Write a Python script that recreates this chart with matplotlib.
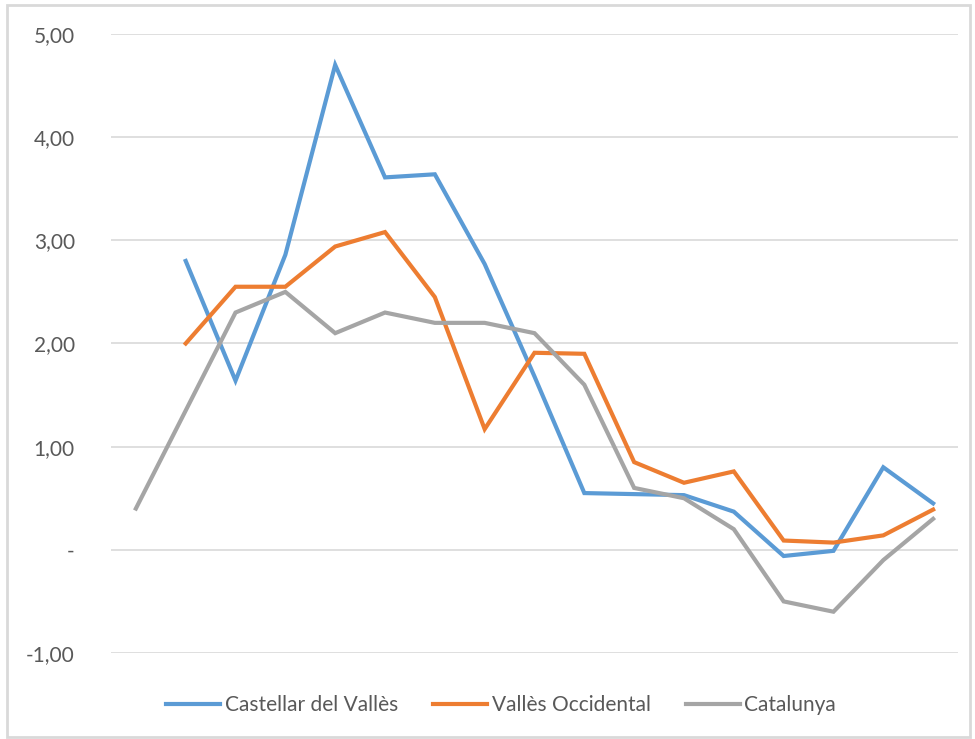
import matplotlib
matplotlib.use("Agg")
import matplotlib.pyplot as plt
from matplotlib.patches import Rectangle
import numpy as np

categories = list(range(17))
castellar = [None, 2.80, 1.64, 2.86, 4.70, 3.61, 3.64, 2.77, 1.68, 0.55, 0.54, 0.53, 0.37, -0.06, -0.01, 0.80, 0.45]
valles_occ = [None, 2.00, 2.55, 2.55, 2.94, 3.08, 2.45, 1.17, 1.91, 1.90, 0.85, 0.65, 0.76, 0.09, 0.07, 0.14, 0.39]
catalunya = [0.40, 1.35, 2.30, 2.50, 2.10, 2.30, 2.20, 2.20, 2.10, 1.60, 0.60, 0.50, 0.20, -0.50, -0.60, -0.10, 0.30]
y_ticks = [-1, 0, 1, 2, 3, 4, 5]
y_ticklabels = ["-1,00", "-", "1,00", "2,00", "3,00", "4,00", "5,00"]
series_names = ["Castellar del Vallès", "Vallès Occidental", "Catalunya"]
colors = ["#5B9BD5", "#ED7D31", "#A5A5A5"]

plt.rcParams['font.family'] = ['Lato', 'DejaVu Sans']

fig = plt.figure(figsize=(9.75, 7.39), dpi=100)
fig.patches.append(Rectangle((0.007, 0.003), 0.988, 0.99, transform=fig.transFigure,
                             fill=False, edgecolor="#D9D9D9", linewidth=2))
ax = fig.add_axes([0.1138, 0.1164, 0.8688, 0.8376])

x = np.array(categories, dtype=float)
def arr(v):
    return np.array([np.nan if a is None else a for a in v], dtype=float)

for data, name, c in zip([castellar, valles_occ, catalunya], series_names, colors):
    ax.plot(x, arr(data), color=c, linewidth=3.0, label=name, solid_joinstyle='miter', zorder=3)

ax.set_xlim(-0.5, 16.5)
ax.set_ylim(-1, 5)
ax.set_yticks(y_ticks)
ax.set_yticklabels(y_ticklabels, fontsize=15, color="#595959")
ax.set_xticks([])
ax.tick_params(axis='y', length=0, pad=26)
ax.grid(axis='y', color="#D9D9D9", linewidth=1.2)
ax.set_axisbelow(True)
for s in ax.spines.values():
    s.set_visible(False)

leg = fig.legend(loc='center', bbox_to_anchor=(0.514, 0.046), ncol=3, frameon=False,
                 fontsize=15, handlelength=2.6, handletextpad=0.2, columnspacing=1.7)
for t in leg.get_texts():
    t.set_color("#595959")

fig.savefig("out.png", dpi=100)
